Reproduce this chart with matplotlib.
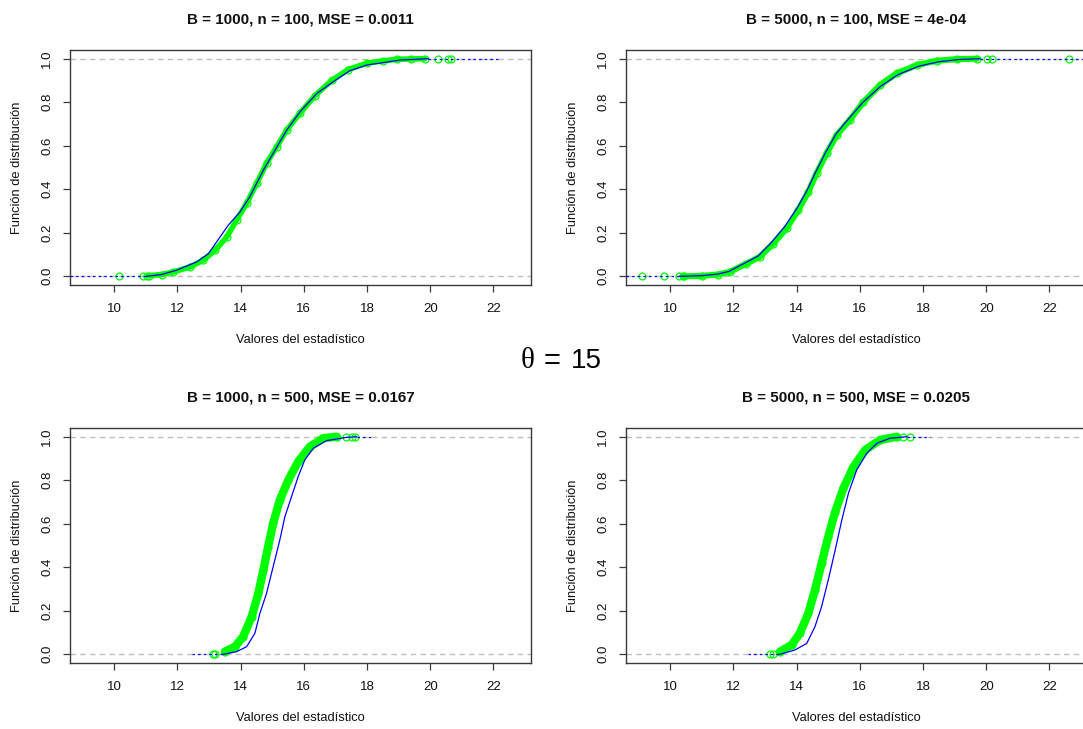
import matplotlib
matplotlib.use("Agg")
import matplotlib.pyplot as plt
import numpy as np

plt.rcParams['font.family'] = ['Liberation Sans', 'DejaVu Sans']

# ---------------- data ----------------
titles = ["B = 1000, n = 100, MSE = 0.0011", "B = 5000, n = 100, MSE = 4e-04",
          "B = 1000, n = 500, MSE = 0.0167", "B = 5000, n = 500, MSE = 0.0205"]

xticks = [10, 12, 14, 16, 18, 20, 22]
yticks = [0.0, 0.2, 0.4, 0.6, 0.8, 1.0]
ytick_labels = ["0.0", "0.2", "0.4", "0.6", "0.8", "1.0"]

# Panel 1: B=1000, n=100
p1_green_x = [11.10, 11.50, 11.87, 12.40, 12.82, 13.19, 13.56, 13.87, 14.19, 14.51, 14.82,
              15.14, 15.46, 15.88, 16.35, 16.88, 17.40, 17.99, 18.51, 18.94, 19.40, 19.83]
p1_green_F = [0.003, 0.008, 0.02, 0.043, 0.074, 0.12, 0.18, 0.258, 0.335, 0.427, 0.519,
              0.595, 0.672, 0.75, 0.83, 0.90, 0.95, 0.979, 0.99, 0.997, 0.999, 1.0]
p1_green_lo = [10.15, 10.90, 11.05]
p1_green_hi = [20.24, 20.56, 20.65]
p1_blue_x = [11.02, 11.5, 11.97, 12.61, 12.98, 13.24, 13.61, 13.98, 14.29, 14.72, 15.03,
             15.46, 15.88, 16.41, 16.93, 17.46, 17.99, 18.51, 19.04, 19.94]
p1_blue_F = [0.0, 0.008, 0.028, 0.066, 0.104, 0.158, 0.235, 0.296, 0.365, 0.488, 0.565,
             0.672, 0.756, 0.84, 0.894, 0.945, 0.971, 0.982, 0.994, 1.0]
p1_blue_ext = [8.6, 22.2]

# Panel 2: B=5000, n=100
p2_green_x = [10.45, 11.0, 11.5, 11.88, 12.41, 12.83, 13.26, 13.68, 14.05, 14.37, 14.63,
              14.95, 15.27, 15.69, 16.11, 16.64, 17.17, 17.81, 18.44, 19.08, 19.71]
p2_green_F = [0.0, 0.002, 0.008, 0.02, 0.058, 0.089, 0.15, 0.22, 0.304, 0.388, 0.473,
              0.565, 0.649, 0.72, 0.80, 0.879, 0.933, 0.971, 0.991, 0.998, 1.0]
p2_green_lo = [9.11, 9.79, 10.27, 10.40]
p2_green_hi = [20.03, 20.19, 22.62]
p2_blue_x = [10.30, 11.0, 11.5, 11.85, 12.35, 12.78, 13.2, 13.62, 14.0, 14.32, 14.6,
             14.92, 15.25, 15.68, 16.1, 16.65, 17.2, 17.85, 18.5, 19.1, 19.8]
p2_blue_F = [0.0, 0.003, 0.01, 0.022, 0.06, 0.093, 0.155, 0.228, 0.31, 0.392, 0.478,
             0.57, 0.655, 0.73, 0.80, 0.872, 0.926, 0.965, 0.986, 0.996, 1.0]
p2_blue_ext = [8.6, 23.3]

# Panel 3: B=1000, n=500
p3_green_x = [13.50, 13.82, 14.08, 14.35, 14.56, 14.72, 14.87, 15.03, 15.24, 15.51, 15.82,
              16.19, 16.61, 17.04]
p3_green_F = [0.012, 0.035, 0.081, 0.173, 0.28, 0.387, 0.494, 0.602, 0.709, 0.801, 0.885,
              0.954, 0.993, 1.0]
p3_green_lo = [13.13, 13.18]
p3_green_hi = [17.35, 17.51, 17.62]
p3_blue_x = [13.45, 13.87, 14.19, 14.45, 14.61, 14.82, 15.03, 15.24, 15.40, 15.61, 15.82,
             16.03, 16.30, 16.72, 17.35, 17.67]
p3_blue_F = [0.0, 0.012, 0.035, 0.096, 0.188, 0.28, 0.403, 0.525, 0.632, 0.724, 0.816,
             0.893, 0.947, 0.982, 0.997, 1.0]
p3_blue_ext = [12.46, 18.22]

# Panel 4: B=5000, n=500
p4_green_x = [13.47, 13.84, 14.10, 14.37, 14.58, 14.79, 15.00, 15.22, 15.48, 15.80, 16.17,
              16.64, 17.17]
p4_green_F = [0.012, 0.043, 0.096, 0.188, 0.295, 0.418, 0.54, 0.655, 0.763, 0.862, 0.939,
              0.985, 1.0]
p4_green_lo = [13.15, 13.25]
p4_green_hi = [17.38, 17.60]
p4_blue_x = [13.47, 13.95, 14.32, 14.58, 14.79, 15.00, 15.22, 15.43, 15.64, 15.90, 16.22,
             16.54, 16.96, 17.49]
p4_blue_F = [0.0, 0.02, 0.05, 0.127, 0.219, 0.341, 0.479, 0.617, 0.74, 0.847, 0.924,
             0.97, 0.993, 1.0]
p4_blue_ext = [12.46, 18.23]

theta_value = 15

# ---------------- figure ----------------
W, H = 1083, 729
fig = plt.figure(figsize=(W / 100, H / 100), dpi=100)

panels = [
    (p1_green_x, p1_green_F, p1_green_lo, p1_green_hi, p1_blue_x, p1_blue_F, p1_blue_ext),
    (p2_green_x, p2_green_F, p2_green_lo, p2_green_hi, p2_blue_x, p2_blue_F, p2_blue_ext),
    (p3_green_x, p3_green_F, p3_green_lo, p3_green_hi, p3_blue_x, p3_blue_F, p3_blue_ext),
    (p4_green_x, p4_green_F, p4_green_lo, p4_green_hi, p4_blue_x, p4_blue_F, p4_blue_ext),
]

# axes boxes in pixels: (left, top, right, bottom)
boxes = [(70, 50, 531, 285), (626, 50, 1087, 285),
         (70, 428, 531, 663), (626, 428, 1087, 663)]
band_lw = [4.0, 4.4, 6.0, 6.0]

GREEN = "#00FF00"
BLUE = "#0000FF"
GRAY = "#BEBEBE"
BOX = "#3a3a3a"
TXT = "#111111"

for i, (gx, gF, glo, ghi, bx, bF, bext) in enumerate(panels):
    l, t, r, b = boxes[i]
    ax = fig.add_axes([l / W, 1 - b / H, (r - l) / W, (b - t) / H])
    ax.set_xlim(8.6, 23.19)
    ax.set_ylim(-0.04, 1.04)

    # reference lines
    ax.axhline(0, color=GRAY, lw=1.0, ls=(0, (4, 3)), zorder=1)
    ax.axhline(1, color=GRAY, lw=1.0, ls=(0, (4, 3)), zorder=1)

    # green bootstrap ECDF (dense open circles -> band)
    ax.plot(gx, gF, color=GREEN, lw=band_lw[i], solid_capstyle='round',
            solid_joinstyle='round', zorder=2)
    ax.plot(gx, gF, ls='none', marker='o', ms=5, mfc='none', mec=GREEN, mew=0.9, zorder=2)
    ax.plot(glo, [0] * len(glo), ls='none', marker='o', ms=5, mfc='none', mec=GREEN,
            mew=0.9, zorder=2)
    ax.plot(ghi, [1] * len(ghi), ls='none', marker='o', ms=5, mfc='none', mec=GREEN,
            mew=0.9, zorder=2)

    # blue ECDF
    ax.plot(bx, bF, color=BLUE, lw=0.9, zorder=3)
    ax.plot([bext[0], bx[0]], [0, 0], color=BLUE, lw=0.9, ls=(0, (2, 2.5)), zorder=3)
    ax.plot([bx[-1], bext[1]], [1, 1], color=BLUE, lw=0.9, ls=(0, (2, 2.5)), zorder=3)

    # axes styling (R-like)
    for s in ax.spines.values():
        s.set_color(BOX)
        s.set_linewidth(1.0)
    ax.set_xticks(xticks)
    ax.set_xticklabels([str(v) for v in xticks])
    ax.set_yticks(yticks)
    ax.set_yticklabels(ytick_labels)
    ax.tick_params(axis='both', direction='out', length=5, width=0.9, color=BOX,
                   labelsize=9.5, labelcolor=TXT)
    ax.tick_params(axis='x', pad=8)
    ax.tick_params(axis='y', pad=7, labelrotation=90)
    for lab in ax.get_yticklabels():
        lab.set_va('center')

    ax.set_xlabel("Valores del estadístico", fontsize=9.3, color=TXT)
    xl_y = 340 if i < 2 else 718
    ax.xaxis.set_label_coords(0.5, (b - xl_y) / (b - t))
    ax.xaxis.label.set_va('center')
    ax.set_ylabel("Función de distribución", fontsize=9.3, color=TXT)
    ax.yaxis.set_label_coords(-53 / (r - l), 0.5)
    ax.yaxis.label.set_va('center')

    ty = 20 if i < 2 else 397
    ax.text(0.5, 1 + (t - ty) / (b - t), titles[i],
            transform=ax.transAxes, ha='center', va='center', fontsize=10.9,
            fontweight='bold', color=TXT)

ty = 1 - 361 / H
fig.text(528 / W, ty, "θ", family=['Liberation Serif', 'DejaVu Serif'],
         fontsize=21, ha='center', va='center', color='black')
fig.text(552 / W, ty, "=", fontsize=21, ha='center', va='center', color='black')
fig.text(571 / W, ty, str(theta_value), fontsize=20, ha='left', va='center', color='black')

fig.savefig("out.png", dpi=100)
